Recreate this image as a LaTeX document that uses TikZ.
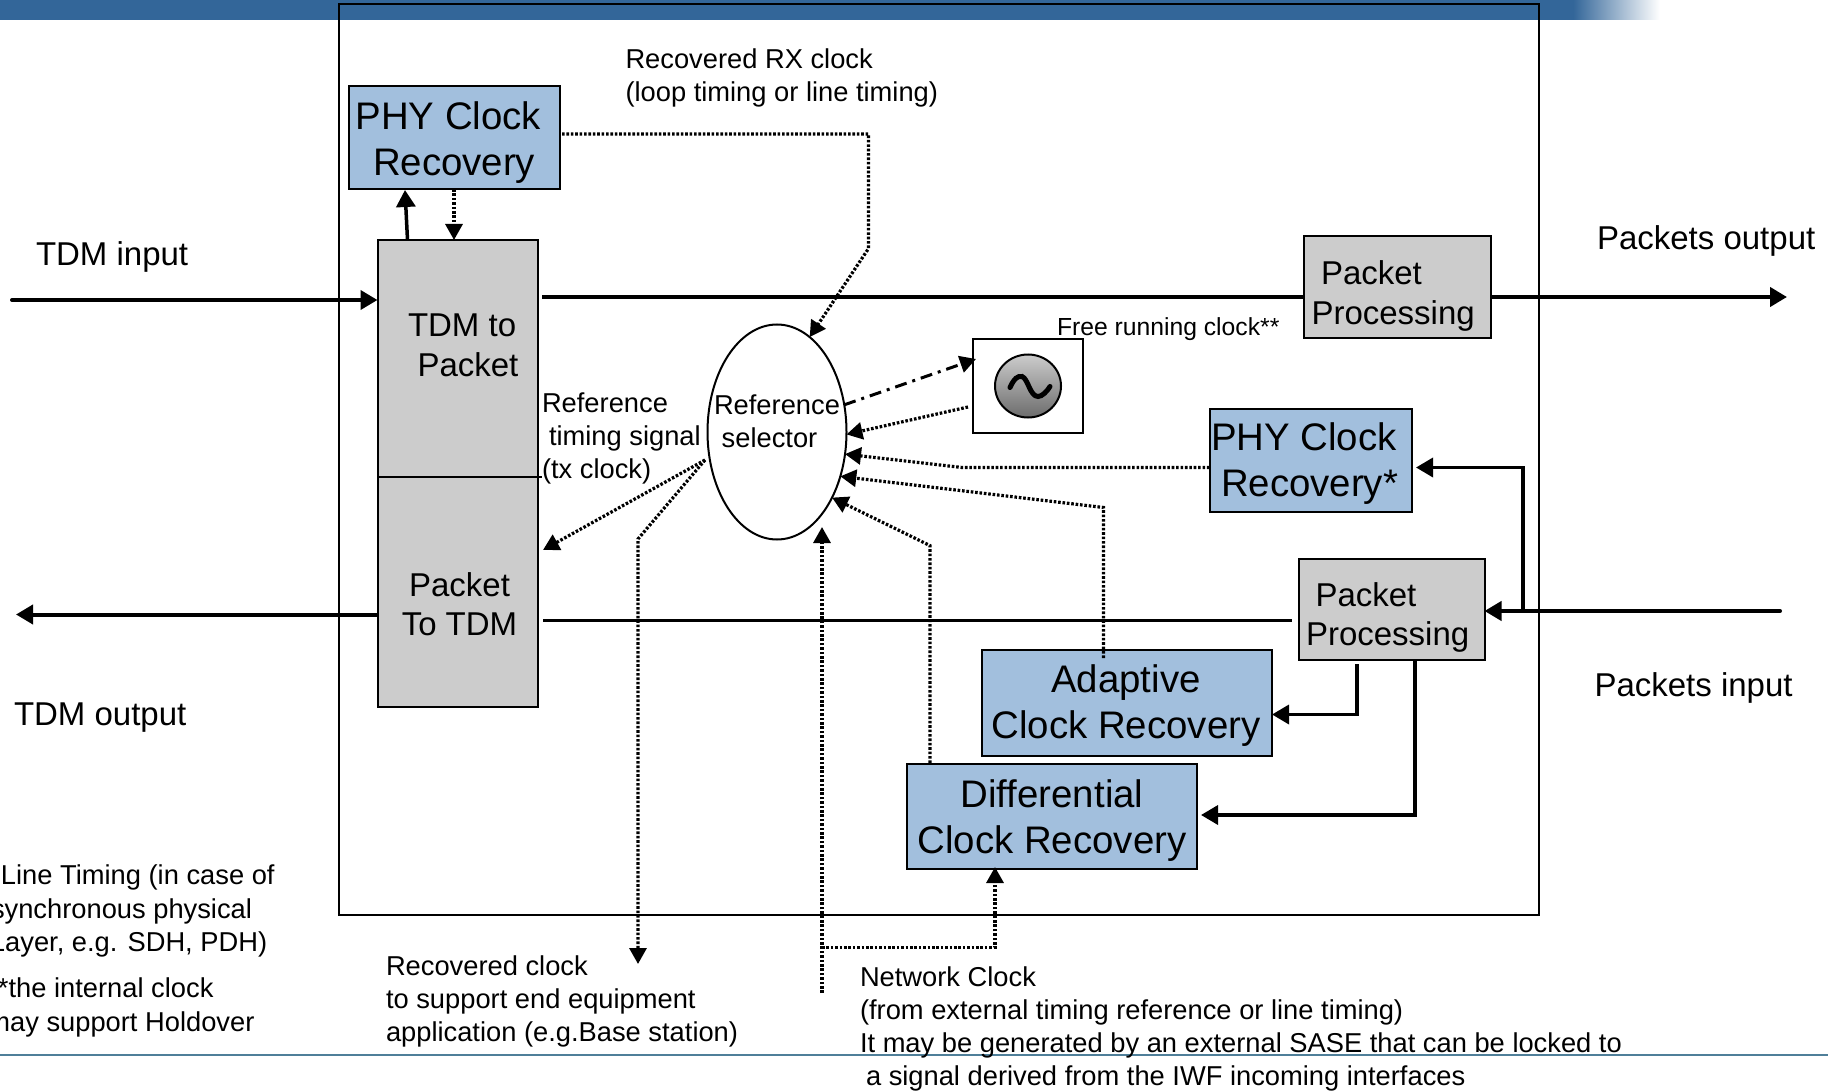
\documentclass[tikz,border=0pt]{standalone}
\usepackage{fontspec}
\setmainfont{Liberation Sans}
\usetikzlibrary{arrows.meta,shapes.geometric}
\definecolor{barblue}{HTML}{336699}
\definecolor{boxblue}{HTML}{A2BFDD}
\definecolor{boxgray}{HTML}{CCCCCC}
\definecolor{rulecol}{HTML}{4F7F99}
\tikzset{
  every node/.style={outer sep=0pt},
  tipbig/.tip={Triangle[length=17pt,width=19pt]},
  tipsmall/.tip={Triangle[length=16pt,width=17pt]},
  bluebox/.style={draw=black,line width=2pt,fill=boxblue,inner sep=0pt},
  graybox/.style={draw=black,line width=2pt,fill=boxgray,inner sep=0pt},
  heavy/.style={line width=4pt},
  medium/.style={line width=3.5pt},
  fine/.style={line width=2.2pt},
  dots/.style={line width=3.2pt,dash pattern=on 2.6pt off 1.8pt},
  dashdot/.style={line width=3pt,dash pattern=on 12pt off 6pt on 3pt off 6pt},
  big/.style={font=\fontsize{38.4}{46}\selectfont,inner sep=0pt},
  mid/.style={font=\fontsize{33}{39.5}\selectfont,inner sep=0pt},
  small/.style={font=\fontsize{27.3}{33}\selectfont,inner sep=0pt},
}
\begin{document}
\begin{tikzpicture}[x=1pt,y=-1pt]
\useasboundingbox (0,0) rectangle (1828,1091);
\clip (0,0) rectangle (1828,1091);
% header bar and footer rule
\fill[barblue] (0,0) rectangle (1573,20);
\shade[left color=barblue,right color=white] (1573,0) rectangle (1660,20);
\draw[rulecol,line width=2pt] (0,1055) -- (1828,1055);
% outer frame
\node[draw=black,line width=2pt,minimum width=1200pt,minimum height=910.5pt,anchor=north west,inner sep=0pt] (frame) at (338.5,4.5) {};
% blocks
\node[graybox,minimum width=160pt,minimum height=466pt,anchor=north west] (tdm) at (377.5,240.5) {};
\coordinate (divR) at (542,477);
\draw[fine] (tdm.west |- divR) -- (divR);
\node[bluebox,minimum width=211.5pt,minimum height=103pt,anchor=north west] (phya) at (348.5,86) {};
\node[graybox,minimum width=187pt,minimum height=101pt,anchor=north west] (ppa) at (1304,236.5) {};
\node[graybox,minimum width=186pt,minimum height=101pt,anchor=north west] (ppb) at (1298.5,558.5) {};
\node[bluebox,minimum width=202pt,minimum height=103pt,anchor=north west] (phyb) at (1209.5,408.5) {};
\node[bluebox,minimum width=290pt,minimum height=106pt,anchor=north west] (adapt) at (981.5,649.5) {};
\node[bluebox,minimum width=290pt,minimum height=105pt,anchor=north west] (diff) at (906.5,764) {};
\node[draw=black,line width=2pt,minimum width=110pt,minimum height=94pt,anchor=north west,inner sep=0pt] (clockbox) at (973,339) {};
\node[ellipse,draw=black,line width=2pt,minimum width=66pt,minimum height=63pt,inner sep=0pt,top color=boxgray,bottom color=gray!85!black] (osc) at (1028,386) {};
\begin{scope}[shift={(osc.center)}]
\draw[line width=5pt,line cap=round] (-18,1.5) .. controls (-14,-7.5) and (-10,-10.5) .. (-6,-9.5) .. controls (0,-7.5) and (2,10.5) .. (10,10.5) .. controls (14,10.5) and (19,5.5) .. (22,0.5);
\end{scope}
\node[ellipse,draw=black,line width=2pt,minimum width=139pt,minimum height=215pt,inner sep=0pt] (sel) at (777,432) {};
% free ends
\coordinate (tdmin) at (12,300);
\coordinate (tdmout) at (16,614.5);
\coordinate (txstart) at (542,297);
\coordinate (pktout) at (1787,297);
\coordinate (rxstart) at (543,620.5);
\coordinate (rxend) at (1292,620.5);
\coordinate (pktin) at (1780,611);
\coordinate (branch) at (1523,611);
\coordinate (selL) at (705,460);
\coordinate (netstart) at (822,993);
\coordinate (nettip) at (822,527);
\coordinate (netbranch) at (822,947.5);
\coordinate (recclk) at (638,964);
\coordinate (txtip) at (543,550);
\coordinate (phyout) at (562,134);
\coordinate (clockin) at (976,359);
% solid connectors
\draw[heavy,line cap=round,-{tipbig}] (tdmin) -- (tdm.west |- tdmin);
\draw[heavy,-{tipbig}] (tdm.west |- tdmout) -- (tdmout);
\draw[heavy] (txstart) -- (ppa.west |- txstart);
\draw[heavy,-{tipbig}] (ppa.east |- txstart) -- (pktout);
\draw[fine] (rxstart) -- (rxend);
\draw[heavy,line cap=round,-{tipbig}] (pktin) -- (ppb.east |- pktin);
\draw[medium,-{tipbig}] (branch) -- (1523,467.5) -- (1416,467.5);
\draw[medium,-{tipbig}] (1357,664) -- (1357,714.5) -- (1272,714.5);
\draw[medium,-{tipbig}] (1415,659) -- (1415,815) -- (1201,815);
\draw[medium,-{tipbig}] (407.5,240) -- (405,190);
% dotted connectors
\draw[dots,-{tipsmall}] (454,189) -- (454,240);
\draw[dots,-{tipsmall}] (phyout) -- (868.5,134) -- (868.5,248.5) -- (sel.71);
\draw[dashdot,-{tipsmall}] (sel.22) -- (clockin);
\draw[dots,-{tipsmall}] (968,407) -- (sel.-2);
\draw[dots,-{tipsmall}] (phyb.west |- 0,467.5) -- (962,467.5) -- (sel.-18);
\draw[dots,-{tipsmall}] (1103.5,658) -- (1103.5,507.5) -- (sel.-35);
\draw[dots,-{tipsmall}] (930,763) -- (930,545.6) -- (sel.-50);
\draw[dots,-{tipsmall}] (netstart) -- (nettip);
\draw[dots,-{tipsmall}] (netbranch) -- (995,947.5) -- (995,867);
\draw[dots,-{tipsmall}] (selL) -- (txtip);
\draw[dots,-{tipsmall}] (selL) -- (638,539) -- (recclk);
% labels
\node[mid,anchor=base west] (ltdmin) at (36,266) {TDM input};
\node[mid,anchor=base west] (ltdmout) at (14,725) {TDM output};
\node[mid,anchor=base west] (lpktout) at (1597,250) {Packets output};
\node[mid,anchor=base west] (lpktin) at (1594.5,696) {Packets input};
\node[big,anchor=base west,align=left] (tphya) at (355.6,176) {PHY Clock\\\hspace*{17.4pt}Recovery};
\node[big,anchor=base west,align=left] (tphyb) at (1211,496.5) {PHY Clock\\\hspace*{10pt}Recovery*};
\node[big,anchor=base,align=center] (tadapt) at (1126,738.5) {Adaptive\\Clock Recovery};
\node[big,anchor=base,align=center] (tdiff) at (1052,853.5) {Differential\\Clock Recovery};
\node[mid,anchor=base west,align=left] (ttdm) at (408,376) {TDM to\\\hspace*{9.5pt}Packet};
\node[mid,anchor=base,align=center] (tpkt) at (459.5,635.5) {Packet\\To TDM};
\node[mid,anchor=base west,align=left] (tppa) at (1311.5,324) {\hspace*{9.5pt}Packet\\Processing};
\node[mid,anchor=base west,align=left] (tppb) at (1306,645.5) {\hspace*{9.5pt}Packet\\Processing};
\node[small,anchor=base west,align=left] (trx) at (625.5,102) {Recovered RX clock\\(loop timing or line timing)};
\node[small,anchor=base west,align=left] (tref) at (542,478) {Reference\\\hspace*{7pt}timing signal\\(tx clock)};
\node[small,anchor=base west,align=left] (tsel) at (714,447) {Reference\\\hspace*{7.7pt}selector};
\node[font=\fontsize{24.7}{30}\selectfont,inner sep=0pt,anchor=base west] (tfree) at (1057,335) {Free running clock**};
\node[small,anchor=base west,align=left] (trec) at (386,1041) {Recovered clock\\to support end equipment\\application (e.g.Base station)};
\node[small,anchor=base west,align=left] (tnet) at (860,1085) {Network Clock\\(from external timing reference or line timing)\\It may be generated by an external SASE that can be locked to\\\hspace*{6pt}a signal derived from the IWF incoming interfaces};
\node[small,anchor=base west] (tl1) at (1,884) {Line Timing (in case of};
\node[small,anchor=base west] (tl2) at (-9,918) {synchronous physical};
\node[small,anchor=base west] (tl3) at (-10,951) {Layer, e.g. SDH, PDH)};
\node[small,anchor=base west] (tl4) at (-2,997) {*the internal clock};
\node[small,anchor=base west] (tl5) at (-12.6,1031) {may support Holdover};
\end{tikzpicture}
\end{document}
